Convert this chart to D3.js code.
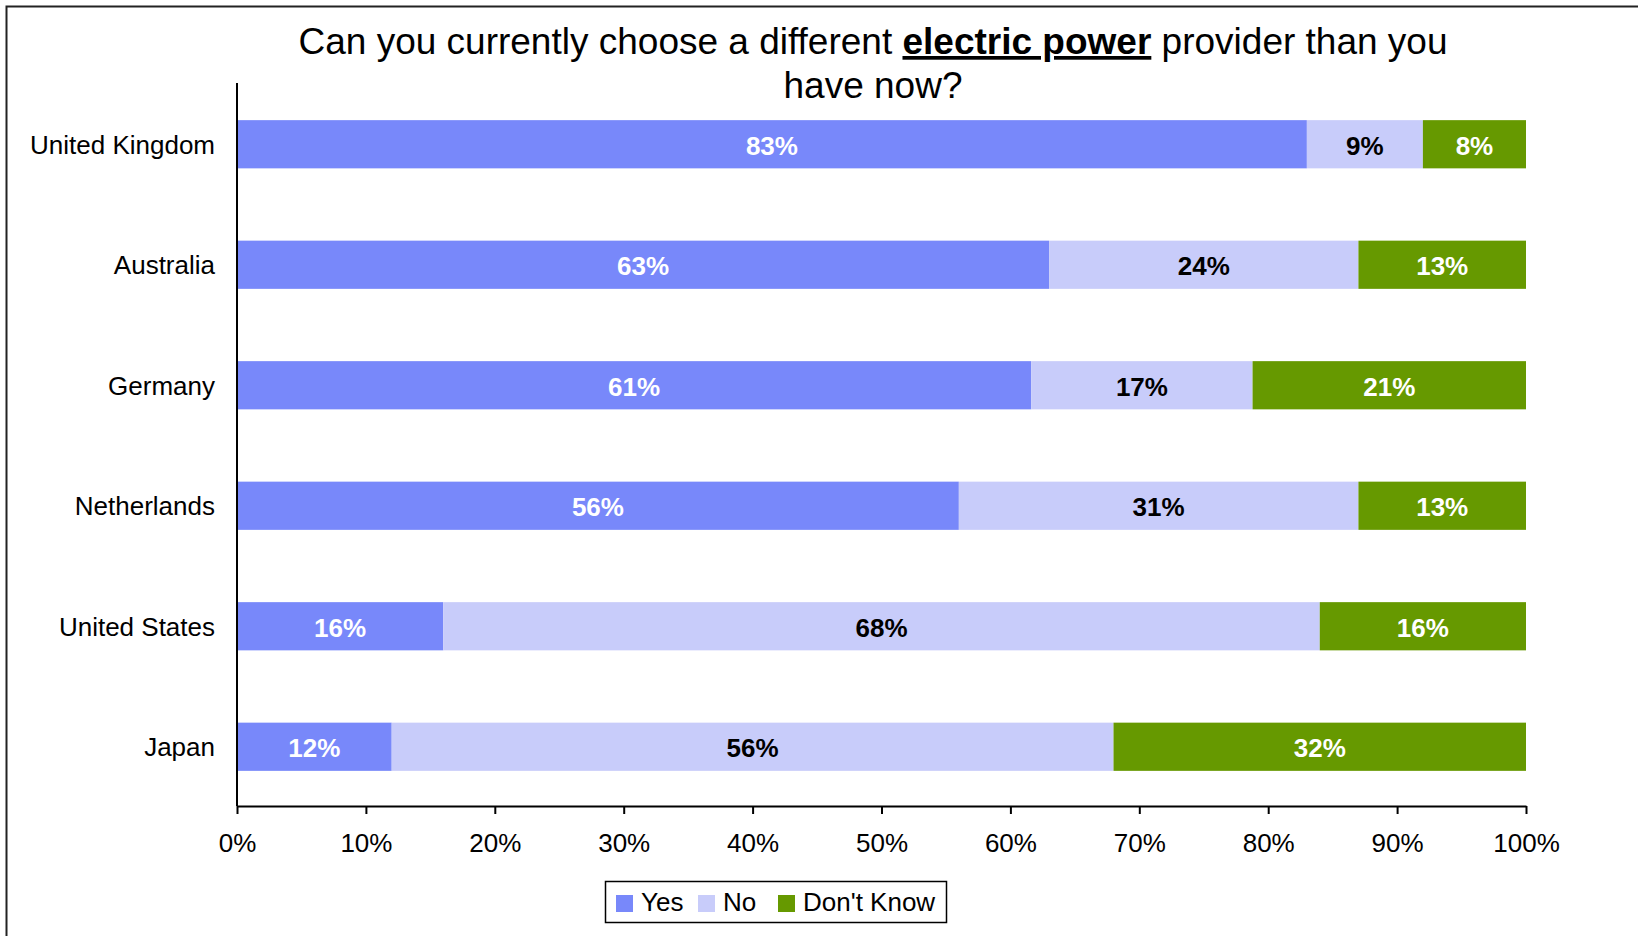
<!DOCTYPE html>
<html>
<head>
<meta charset="utf-8">
<script src="https://cdn.jsdelivr.net/npm/d3@7"></script>
<style>
  html, body { margin: 0; padding: 0; background: #fff; }
  svg { display: block; font-family: "Liberation Sans", Arial, Helvetica, sans-serif; }
</style>
</head>
<body>
<svg id="chart" width="1638" height="936"></svg>
<script>
// Survey responses by country (percent)
const countries = ["United Kingdom", "Australia", "Germany", "Netherlands", "United States", "Japan"];
const yes     = [83, 63, 61, 56, 16, 12];
const no      = [9, 24, 17, 31, 68, 56];
const dontKnow = [8, 13, 21, 13, 16, 32];
const seriesNames = ["Yes", "No", "Don't Know"];
const seriesColors = ["#7888FA", "#C8CCFA", "#669900"];
const labelColors = ["#ffffff", "#000000", "#ffffff"];
const tickValues = [0, 0.1, 0.2, 0.3, 0.4, 0.5, 0.6, 0.7, 0.8, 0.9, 1.0];

const svg = d3.select("#chart");

// outer frame (top and left edges visible)
svg.append("rect")
  .attr("x", 6.5).attr("y", 6.5)
  .attr("width", 1700).attr("height", 1000)
  .attr("fill", "none").attr("stroke", "#222").attr("stroke-width", 2);

// rows: each country's values normalised to a 100% stack
const rows = countries.map((c, i) => ({ country: c, Yes: yes[i], No: no[i], "Don't Know": dontKnow[i] }));
const stacked = d3.stack().keys(seriesNames).offset(d3.stackOffsetExpand)(rows);

const x = d3.scaleLinear().domain([0, 1]).range([237, 1526]);
const y = d3.scaleBand().domain(countries).range([84, 807]).paddingInner(0.6).paddingOuter(0.3);

// bars
const layers = svg.append("g").selectAll("g")
  .data(stacked).join("g")
  .attr("fill", (d, i) => seriesColors[i]);

layers.selectAll("rect")
  .data(d => d).join("rect")
  .attr("x", d => x(d[0]))
  .attr("width", d => x(d[1]) - x(d[0]))
  .attr("y", d => y(d.data.country))
  .attr("height", y.bandwidth());

// value labels
stacked.forEach((layer, i) => {
  svg.append("g").selectAll("text")
    .data(layer).join("text")
    .attr("x", d => (x(d[0]) + x(d[1])) / 2)
    .attr("y", d => y(d.data.country) + y.bandwidth() / 2)
    .attr("dy", "0.4em")
    .attr("text-anchor", "middle")
    .attr("font-size", 26)
    .attr("font-weight", "bold")
    .attr("fill", labelColors[i])
    .text(d => d.data[layer.key] + "%");
});

// x axis
const xAxis = svg.append("g")
  .attr("transform", "translate(0,806)")
  .call(d3.axisBottom(x).tickValues(tickValues).tickFormat(d3.format(".0%")).tickSize(8).tickSizeOuter(0).tickPadding(12));
xAxis.select(".domain").attr("stroke", "#000").attr("stroke-width", 2);
xAxis.selectAll(".tick line").attr("stroke", "#000").attr("stroke-width", 2);
xAxis.selectAll(".tick text")
  .attr("font-size", 26).attr("font-family", "Liberation Sans, Arial, sans-serif").attr("fill", "#000")
  .attr("dy", "1em");

// y axis line and category labels
const yAxis = svg.append("g")
  .attr("transform", "translate(237,0)")
  .call(d3.axisLeft(y).tickSize(0).tickPadding(22));
yAxis.select(".domain").attr("stroke", "#000").attr("stroke-width", 2).attr("d", "M0,83V806");
yAxis.selectAll(".tick text")
  .attr("font-size", 26).attr("font-family", "Liberation Sans, Arial, sans-serif").attr("fill", "#000")
  .attr("dy", "0.36em");

// title
const title = svg.append("text")
  .attr("text-anchor", "middle")
  .attr("font-size", 37)
  .attr("fill", "#000");
const line1 = title.append("tspan").attr("x", 873).attr("y", 54);
line1.append("tspan").text("Can you currently choose a different ");
line1.append("tspan").attr("font-weight", "bold").style("text-decoration", "underline").text("electric power");
line1.append("tspan").text(" provider than you");
title.append("tspan").attr("x", 873).attr("y", 98).text("have now?");

// legend
const legend = svg.append("g");
legend.append("rect")
  .attr("x", 605.5).attr("y", 881.5).attr("width", 341).attr("height", 41)
  .attr("fill", "#fff").attr("stroke", "#000").attr("stroke-width", 1.5);
const legendX = [616, 698, 778];
seriesNames.forEach((name, i) => {
  legend.append("rect")
    .attr("x", legendX[i]).attr("y", 895).attr("width", 17).attr("height", 17)
    .attr("fill", seriesColors[i]);
  legend.append("text")
    .attr("x", legendX[i] + 25).attr("y", 911)
    .attr("font-size", 26).attr("fill", "#000")
    .text(name);
});
</script>
</body>
</html>
